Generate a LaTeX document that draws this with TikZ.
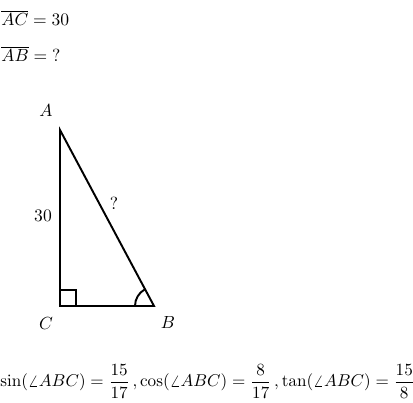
\documentclass[tikz,border=0pt]{standalone}
\usepackage{amsmath}
\usetikzlibrary{calc}
\begin{document}
\begin{tikzpicture}[x=0.57pt,y=0.57pt,
  txt/.style={inner sep=0pt},
  edge/.style={line width=1.1pt, line join=miter},
  thinmark/.style={line width=1.1pt}]
\useasboundingbox (0,0) rectangle (413,403);
\coordinate (A) at (60,273);
\coordinate (C) at (60,97);
\coordinate (B) at (154,97);
\node[txt, anchor=base west] (t1) at (1,377) {$\overline{AC}=30$};
\node[txt, anchor=base west] (t2) at (1,341) {$\overline{AB}={?}$};
\draw[edge] (A) -- (B) -- (C) -- cycle;
\draw[thinmark] ($(C)+(0,16)$) -- ($(C)+(16,16)$) -- ($(C)+(16,0)$);
\draw[thinmark] ($(B)+(-19,0)$) arc[start angle=180, end angle=118.1, radius=19];
\node[txt] (lA) at (46,292) {$A$};
\node[txt] (lC) at (46,79) {$C$};
\node[txt] (lB) at (168,80) {$B$};
\node[txt] (l30) at (43,187) {$30$};
\node[txt] (lq) at (114,200) {$?$};
\node[txt, anchor=base west, scale=0.975] (f) at (0,16) {$\sin(\angle ABC)=\dfrac{15}{17}\,,\cos(\angle ABC)=\dfrac{8}{17}\,,\tan(\angle ABC)=\dfrac{15}{8}$};
\end{tikzpicture}
\end{document}
